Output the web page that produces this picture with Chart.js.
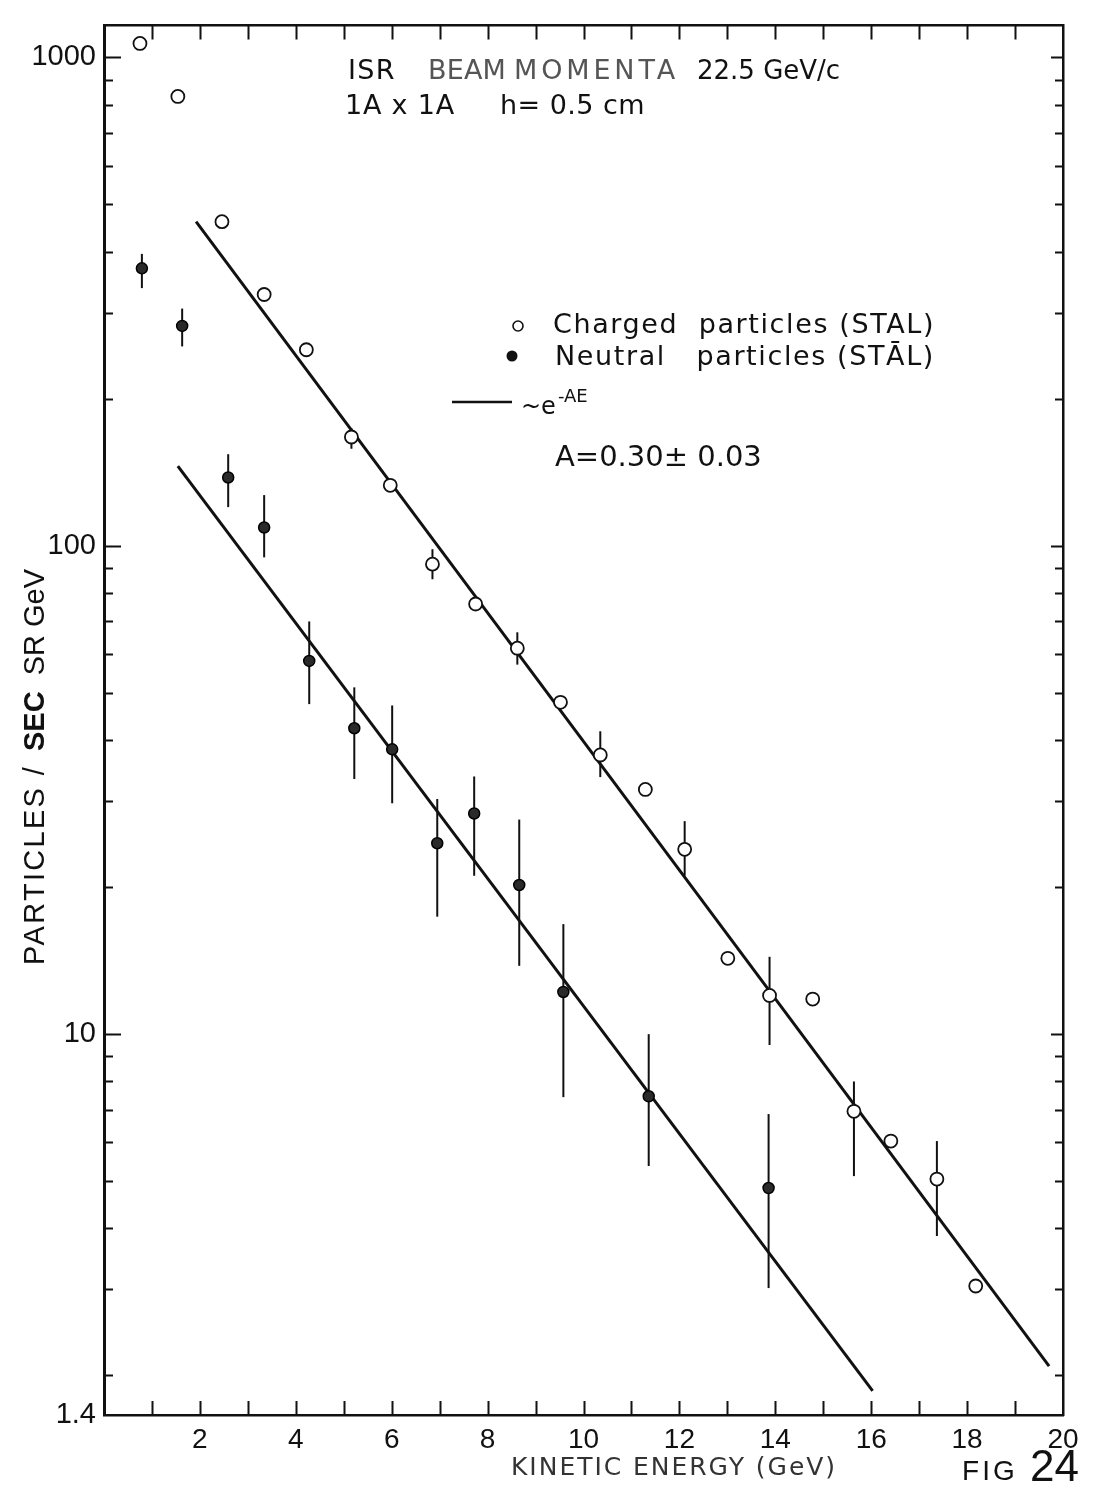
<!DOCTYPE html>
<html>
<head>
<meta charset="utf-8">
<script src="https://cdn.jsdelivr.net/npm/chart.js@4.4.1/dist/chart.umd.min.js"></script>
<style>
  html, body { margin: 0; padding: 0; background: #fff; }
  #wrap { width: 1095px; height: 1489px; position: relative; }
</style>
</head>
<body>
<div id="wrap"><canvas id="chart" width="1095" height="1489"></canvas></div>
<script>
// Kinetic energy (GeV) and rate for charged particles (open circles)
const chargedE    = [0.75, 1.54, 2.46, 3.34, 4.22, 5.16, 5.97, 6.85, 7.75, 8.62, 9.52, 10.35, 11.29, 12.11, 13.01, 13.88, 14.78, 15.64, 16.41, 17.37, 18.18];
const chargedRate = [1068, 832, 461, 327, 252, 167, 133, 91.7, 76, 61.7, 47.8, 37.3, 31.7, 23.9, 14.3, 12.0, 11.8, 6.95, 6.04, 5.05, 3.05];
const chargedLow  = [null, null, null, null, null, 158, null, 85.4, null, 57.1, null, 33.6, null, 21.1, null, 9.5, null, 5.12, null, 3.86, null];
const chargedHigh = [null, null, null, null, null, 174, null, 98.4, null, 66.5, null, 41.7, null, 27.3, null, 14.4, null, 8.0, null, 6.04, null];

// Neutral particles (filled circles)
const neutralE    = [0.79, 1.63, 2.59, 3.34, 4.28, 5.22, 6.01, 6.95, 7.72, 8.66, 9.58, 11.36, 13.86];
const neutralRate = [370, 282, 138, 109, 58.1, 42.3, 38.3, 24.6, 28.3, 20.2, 12.2, 7.46, 4.84];
const neutralLow  = [337, 256, 120, 94.7, 47.4, 33.3, 29.7, 17.4, 21.1, 13.8, 7.43, 5.37, 3.02];
const neutralHigh = [396, 306, 154, 127, 70, 51.3, 47.1, 30.3, 33.7, 27.5, 16.8, 10.0, 6.86];

// Exponential fits ~e^-AE, end points of each drawn line
const fitChargedE    = [1.92, 19.71];
const fitChargedRate = [461, 2.09];
const fitNeutralE    = [1.54, 16.03];
const fitNeutralRate = [145.6, 1.86];

// Axis ticks and labels
const xTickValues = [2, 4, 6, 8, 10, 12, 14, 16, 18, 20];
const xTickLabels = ['2', '4', '6', '8', '10', '12', '14', '16', '18', '20'];
const yTickValues = [1.66, 10, 100, 1000];
const yTickLabels = ['1.4', '10', '100', '1000'];
const xRange = [0, 20];
const yRange = [1.66, 1163];

const INK = '#111';
const FONT = '"Liberation Sans", "DejaVu Sans", Arial, sans-serif';
const WIDE = '"DejaVu Sans", "Liberation Sans", Arial, sans-serif';

const pts = (xs, ys) => xs.map((x, i) => ({ x, y: ys[i] }));

// draws text stretched to a given width via letter spacing; returns end x
function fitText(ctx, text, x, y, width, font) {
  ctx.font = font;
  ctx.letterSpacing = '0px';
  const w = ctx.measureText(text).width;
  const n = Array.from(text).length;
  const ls = width && n > 1 ? Math.max(0, (width - w) / n) : 0;
  ctx.letterSpacing = ls.toFixed(2) + 'px';
  ctx.fillText(text, x, y);
  const end = x + ctx.measureText(text).width;
  ctx.letterSpacing = '0px';
  return end;
}

// vertical error bars
const errorBars = {
  id: 'errorBars',
  beforeDatasetsDraw(chart) {
    const { ctx, scales: { x, y } } = chart;
    ctx.save();
    ctx.strokeStyle = INK;
    ctx.lineWidth = 2;
    const draw = (xs, lo, hi) => xs.forEach((e, i) => {
      if (lo[i] == null || hi[i] == null) return;
      const px = x.getPixelForValue(e);
      ctx.beginPath();
      ctx.moveTo(px, y.getPixelForValue(lo[i]));
      ctx.lineTo(px, y.getPixelForValue(hi[i]));
      ctx.stroke();
    });
    draw(chargedE, chargedLow, chargedHigh);
    draw(neutralE, neutralLow, neutralHigh);
    ctx.restore();
  }
};

// inward tick marks on all four sides of the frame
const frameTicks = {
  id: 'frameTicks',
  afterDraw(chart) {
    const { ctx, chartArea: a, scales: { x, y } } = chart;
    ctx.save();
    ctx.strokeStyle = INK;
    ctx.lineWidth = 2;
    for (let e = Math.ceil(xRange[0]) + 1; e < xRange[1]; e++) {
      const px = Math.round(x.getPixelForValue(e)) + 0.5;
      ctx.beginPath();
      ctx.moveTo(px, a.bottom); ctx.lineTo(px, a.bottom - 14);
      ctx.moveTo(px, a.top); ctx.lineTo(px, a.top + 14);
      ctx.stroke();
    }
    for (let dec = 1; dec <= 1000; dec *= 10) {
      for (let m = 1; m <= 9; m++) {
        const v = m * dec;
        if (v <= yRange[0] || v >= yRange[1]) continue;
        const py = Math.round(y.getPixelForValue(v)) + 0.5;
        const major = m === 1;
        ctx.beginPath();
        ctx.moveTo(a.left, py); ctx.lineTo(a.left + (major ? 17 : 9), py);
        ctx.moveTo(a.right, py); ctx.lineTo(a.right - (major ? 12 : 8), py);
        ctx.stroke();
      }
    }
    ctx.restore();
  }
};

// annotations: run conditions, legend, axis titles, figure number
const annotations = {
  id: 'annotations',
  afterDraw(chart) {
    const { ctx } = chart;
    ctx.save();
    ctx.fillStyle = INK;
    ctx.textBaseline = 'middle';
    ctx.textAlign = 'left';

    // run conditions
    fitText(ctx, 'ISR', 348, 72, 48, '27px ' + WIDE);
    ctx.fillStyle = '#555';
    fitText(ctx, 'BEAM', 428, 72, 78, '27px ' + WIDE);
    fitText(ctx, 'MOMENTA', 514, 72, 165, '27px ' + WIDE);
    ctx.fillStyle = INK;
    fitText(ctx, '22.5 GeV/c', 697, 72, 0, '26px ' + WIDE);
    fitText(ctx, '1A x 1A', 345, 107, 110, '27px ' + WIDE);
    fitText(ctx, 'h= 0.5 cm', 500, 107, 145, '27px ' + WIDE);

    // legend
    ctx.lineWidth = 1.6;
    ctx.strokeStyle = INK;
    ctx.beginPath(); ctx.arc(518, 326, 5, 0, Math.PI * 2);
    ctx.fillStyle = '#fff'; ctx.fill(); ctx.stroke();
    ctx.fillStyle = INK;
    ctx.beginPath(); ctx.arc(512, 356, 5.5, 0, Math.PI * 2); ctx.fill();
    fitText(ctx, 'Charged  particles (STAL)', 553, 326, 382, '27px ' + WIDE);
    fitText(ctx, 'Neutral   particles (STĀL)', 555, 358, 380, '27px ' + WIDE);
    ctx.lineWidth = 2.5;
    ctx.beginPath(); ctx.moveTo(452, 402); ctx.lineTo(512, 402); ctx.stroke();
    const eEnd = fitText(ctx, '~e', 521, 408, 0, '24px ' + WIDE);
    fitText(ctx, '-AE', eEnd + 2, 397, 0, '18px ' + WIDE);
    fitText(ctx, 'A=0.30± 0.03', 555, 458, 195, '29px ' + WIDE);

    // y axis title, rotated
    ctx.save();
    ctx.translate(36, 965);
    ctx.rotate(-Math.PI / 2);
    ctx.fillStyle = INK;
    const p = fitText(ctx, 'PARTICLES /', 0, 0, 200, '29px ' + FONT);
    const s = fitText(ctx, 'SEC', p + 14, 0, 0, 'bold 29px ' + FONT);
    fitText(ctx, 'SR GeV', s + 16, 0, 0, '29px ' + FONT);
    ctx.restore();

    // x axis title and figure number
    ctx.fillStyle = '#333';
    fitText(ctx, 'KINETIC ENERGY (GeV)', 511, 1468, 326, '25px ' + WIDE);
    ctx.fillStyle = INK;
    ctx.textBaseline = 'alphabetic';
    fitText(ctx, 'FIG', 962, 1480, 56, '28px ' + FONT);
    ctx.font = '44px ' + FONT;
    ctx.fillText('24', 1030, 1481);
    ctx.restore();
  }
};

const frameBorder = { display: true, color: INK, width: 2.5 };

new Chart(document.getElementById('chart'), {
  type: 'scatter',
  data: {
    datasets: [
      {
        label: 'Charged particles (STAL)',
        data: pts(chargedE, chargedRate),
        pointStyle: 'circle', pointRadius: 6.5,
        backgroundColor: '#fff', borderColor: INK, borderWidth: 1.8,
        order: 0
      },
      {
        label: 'Neutral particles (STĀL)',
        data: pts(neutralE, neutralRate),
        pointStyle: 'circle', pointRadius: 5.5,
        backgroundColor: '#2a2a2a', borderColor: '#000', borderWidth: 1.5,
        order: 0
      },
      {
        label: '~e-AE charged',
        data: pts(fitChargedE, fitChargedRate),
        showLine: true, pointRadius: 0, borderColor: INK, borderWidth: 3,
        order: 2
      },
      {
        label: '~e-AE neutral',
        data: pts(fitNeutralE, fitNeutralRate),
        showLine: true, pointRadius: 0, borderColor: INK, borderWidth: 3,
        order: 2
      }
    ]
  },
  options: {
    responsive: false,
    animation: false,
    devicePixelRatio: 1,
    layout: { padding: 0 },
    plugins: { legend: { display: false }, tooltip: { enabled: false }, title: { display: false } },
    scales: {
      x: {
        type: 'linear', position: 'bottom',
        min: xRange[0], max: xRange[1],
        afterBuildTicks: (s) => { s.ticks = xTickValues.map(v => ({ value: v })); },
        afterFit: (s) => { s.height = 74; },
        ticks: {
          padding: 8, color: INK, maxRotation: 0, autoSkip: false,
          font: { family: FONT, size: 28 },
          callback: (v, i) => xTickLabels[i]
        },
        grid: { display: false, drawTicks: false },
        border: frameBorder
      },
      xTop: {
        type: 'linear', position: 'top',
        min: xRange[0], max: xRange[1],
        afterFit: (s) => { s.height = 25; },
        ticks: { display: false },
        grid: { display: false, drawTicks: false },
        border: frameBorder
      },
      y: {
        type: 'logarithmic', position: 'left',
        min: yRange[0], max: yRange[1],
        afterBuildTicks: (s) => { s.ticks = yTickValues.map(v => ({ value: v })); },
        afterFit: (s) => { s.width = 104; },
        ticks: {
          padding: 8, color: INK, autoSkip: false,
          font: { family: FONT, size: 29 },
          callback: (v, i) => yTickLabels[i]
        },
        grid: { display: false, drawTicks: false },
        border: { display: true, color: INK, width: 3 }
      },
      yRight: {
        type: 'logarithmic', position: 'right',
        min: yRange[0], max: yRange[1],
        afterFit: (s) => { s.width = 32; },
        ticks: { display: false },
        grid: { display: false, drawTicks: false },
        border: frameBorder
      }
    }
  },
  plugins: [errorBars, frameTicks, annotations]
});
</script>
</body>
</html>
